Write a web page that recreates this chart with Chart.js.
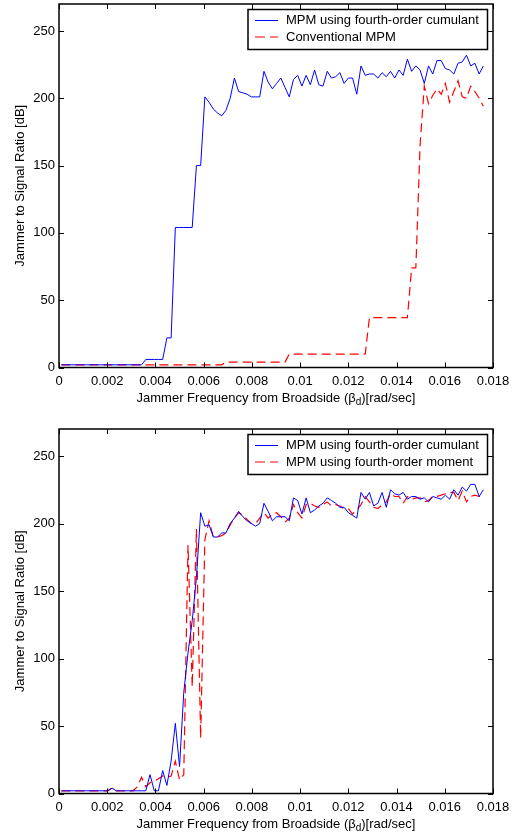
<!DOCTYPE html>
<html>
<head>
<meta charset="utf-8">
<script src="https://cdn.jsdelivr.net/npm/chart.js@4.4.0/dist/chart.umd.min.js"></script>
<style>
  body { margin: 0; background: #fff; }
  canvas { position: absolute; left: 0; }
  #top { top: 0; }
  #bottom { top: 415px; }
</style>
</head>
<body>
<canvas id="top" width="519" height="415"></canvas>
<canvas id="bottom" width="519" height="419"></canvas>
<script>
// jammer frequency samples, in micro-rad/sec
const freqMicro = [100, 275, 450, 625, 800, 975, 1150, 1325, 1500, 1675,
  1850, 2025, 2200, 2375, 2550, 2725, 2900, 3075, 3250, 3425,
  3600, 3775, 3950, 4125, 4300, 4475, 4650, 4825, 5000, 5175,
  5350, 5525, 5700, 5875, 6050, 6225, 6400, 6575, 6750, 6925,
  7100, 7275, 7450, 7625, 7800, 7975, 8150, 8325, 8500, 8675,
  8850, 9025, 9200, 9375, 9550, 9725, 9900, 10075, 10250, 10425,
  10600, 10775, 10950, 11125, 11300, 11475, 11650, 11825, 12000, 12175,
  12350, 12525, 12700, 12875, 13050, 13225, 13400, 13575, 13750, 13925,
  14100, 14275, 14450, 14625, 14800, 14975, 15150, 15325, 15500, 15675,
  15850, 16025, 16200, 16375, 16550, 16725, 16900, 17075, 17250, 17425, 17600];

// top plot
const cumulantTop = [2, 2, 2, 2, 2, 2, 2, 2, 2, 2,
  2, 2, 2, 2, 2, 2, 2, 2, 2, 2,
  6, 6, 6, 6, 6, 22, 22, 104, 104, 104,
  104, 104, 150, 150, 201, 197, 192, 189, 187, 191,
  200, 215, 205, 204, 203, 201, 201, 201, 220, 212,
  207, 211, 215, 208, 201, 214, 217, 209, 217, 210,
  221, 210, 209, 220, 215, 216, 219, 211, 215, 215,
  203, 224, 217, 218, 218, 215, 219, 216, 220, 215,
  221, 217, 229, 220, 224, 221, 211, 224, 218, 228,
  228, 222, 221, 218, 226, 227, 232, 224, 226, 218, 224];
const conventional = [2, 2, 2, 2, 2, 2, 2, 2, 2, 2,
  2, 2, 2, 2, 2, 2, 2, 2, 2, 2,
  2, 2, 2, 2, 2, 2, 2, 2, 2, 2,
  2, 2, 2, 2, 2, 2, 2, 2, 2, 4,
  4, 4, 4, 4, 4, 4, 4, 4, 4, 4,
  4, 4, 4, 4, 10, 10, 10, 10, 10, 10,
  10, 10, 10, 10, 10, 10, 10, 10, 10, 10,
  10, 10, 10, 37, 37, 37, 37, 37, 37, 37,
  37, 37, 37, 74, 74, 165, 209, 196, 202, 207,
  203, 211, 197, 205, 213, 201, 200, 209, 205, 200, 194];

// bottom plot
const cumulantBottom = [2, 2, 2, 2, 2, 2, 2, 2, 2, 2,
  2, 2, 4, 2, 2, 2, 2, 2, 2, 2,
  2, 14, 2, 2, 17, 6, 24, 52, 20, 75,
  104, 128, 160, 208, 198, 199, 190, 190, 193, 193,
  200, 204, 209, 205, 202, 200, 198, 200, 215, 209,
  202, 205, 205, 205, 202, 219, 217, 207, 219, 208,
  210, 213, 215, 219, 217, 215, 212, 212, 208, 206,
  204, 223, 218, 223, 213, 215, 223, 212, 225, 222,
  221, 223, 218, 220, 220, 218, 219, 216, 220, 219,
  218, 221, 218, 225, 221, 227, 224, 229, 229, 220, 225];
const moment = [2, 2, 2, 2, 2, 2, 2, 2, 2, 2,
  2, 2, 4, 2, 2, 2, 2, 2, 5, 12,
  5, 8, 9, 11, 13, 12, 13, 24, 10, 14,
  184, 79, 196, 41, 188, 202, 190, 190, 191, 193,
  199, 204, 208, 206, 203, 200, 200, 204, 208, 204,
  207, 208, 205, 201, 204, 214, 208, 204, 214, 215,
  213, 212, 214, 216, 213, 214, 213, 211, 211, 207,
  210, 214, 220, 216, 212, 211, 214, 216, 222, 220,
  220, 215, 220, 218, 219, 219, 216, 217, 220, 220,
  221, 222, 223, 223, 217, 224, 216, 220, 221, 220, 220];

const xTicks = [0, 0.002, 0.004, 0.006, 0.008, 0.01, 0.012, 0.014, 0.016, 0.018];
const yTicks = [0, 50, 100, 150, 200, 250];

const FONT = '"Liberation Sans", Arial, Helvetica, sans-serif';
const BLUE = '#0000ff';
const RED = '#ff0000';
const DASH = [9, 5];

function points(values) {
  return values.map((v, i) => ({ x: freqMicro[i] / 1e6, y: v }));
}

// box, inward ticks on all sides, legend and axis titles, MATLAB style
const matlabFrame = {
  id: 'matlabFrame',
  afterDraw(chart, args, opts) {
    const { ctx, chartArea: a, scales } = chart;
    const x = scales.x, y = scales.y;
    ctx.save();
    ctx.strokeStyle = '#000';
    ctx.lineWidth = 1.5;
    ctx.setLineDash([]);
    ctx.strokeRect(a.left, a.top, a.width, a.height);

    ctx.lineWidth = 1;
    ctx.beginPath();
    xTicks.forEach(v => {
      const px = Math.round(x.getPixelForValue(v)) + 0.5;
      ctx.moveTo(px, a.bottom); ctx.lineTo(px, a.bottom - 5);
      ctx.moveTo(px, a.top); ctx.lineTo(px, a.top + 5);
    });
    yTicks.forEach(v => {
      const py = Math.round(y.getPixelForValue(v)) + 0.5;
      ctx.moveTo(a.left, py); ctx.lineTo(a.left + 5, py);
      ctx.moveTo(a.right, py); ctx.lineTo(a.right - 5, py);
    });
    ctx.stroke();

    // legend
    const bw = 239.5, bh = 40;
    const bx = a.right - 5.5 - bw, by = a.top + 5.5;
    ctx.fillStyle = '#fff';
    ctx.fillRect(bx, by, bw, bh);
    ctx.lineWidth = 1.5;
    ctx.strokeRect(bx, by, bw, bh);
    ctx.font = '13px ' + FONT;
    ctx.textBaseline = 'middle';
    ctx.textAlign = 'left';
    opts.legend.forEach((item, k) => {
      const ry = by + 11 + k * 16.5;
      ctx.strokeStyle = item.color;
      ctx.lineWidth = item.width;
      ctx.setLineDash(item.dash);
      ctx.beginPath();
      ctx.moveTo(bx + 7, ry); ctx.lineTo(bx + 30, ry);
      ctx.stroke();
      ctx.setLineDash([]);
      ctx.fillStyle = '#000';
      ctx.fillText(item.label, bx + 38, ry);
    });

    // x title with subscript d
    const parts = [['Jammer Frequency from Broadside (\u03b2', 13, 0], ['d', 10, 4], [')[rad/sec]', 13, 0]];
    let total = 0;
    parts.forEach(p => { ctx.font = p[1] + 'px ' + FONT; total += ctx.measureText(p[0]).width; });
    let tx = (a.left + a.right) / 2 - total / 2;
    const ty = a.bottom + 31;
    parts.forEach(p => {
      ctx.font = p[1] + 'px ' + FONT;
      ctx.fillText(p[0], tx, ty + p[2]);
      tx += ctx.measureText(p[0]).width;
    });

    // y title
    ctx.font = '13px ' + FONT;
    ctx.translate(20, (a.top + a.bottom) / 2);
    ctx.rotate(-Math.PI / 2);
    ctx.textAlign = 'center';
    ctx.fillText('Jammer to Signal Ratio [dB]', 0, 0);
    ctx.restore();
  }
};

function makeChart(id, series, legend, padTop, xHeight) {
  return new Chart(document.getElementById(id), {
    type: 'line',
    data: {
      datasets: series.map(s => ({
        label: s.label,
        data: points(s.values),
        borderColor: s.color,
        borderWidth: s.width,
        borderDash: s.dash,
        pointRadius: 0,
        tension: 0,
        fill: false
      }))
    },
    options: {
      responsive: false,
      animation: false,
      devicePixelRatio: 1,
      layout: { padding: { left: 0, top: padTop, right: 26, bottom: 0 } },
      plugins: {
        legend: { display: false },
        tooltip: { enabled: false },
        matlabFrame: { legend: legend }
      },
      scales: {
        x: {
          type: 'linear',
          min: 0,
          max: 0.018,
          grid: { display: false, drawTicks: false },
          border: { display: false },
          ticks: {
            stepSize: 0.002,
            includeBounds: false,
            padding: 6,
            maxRotation: 0,
            autoSkip: false,
            color: '#000',
            font: { family: FONT, size: 13 },
            callback: v => String(+v.toFixed(3))
          },
          afterFit: s => { s.height = xHeight; s.paddingLeft = 0; s.paddingRight = 0; }
        },
        y: {
          min: 0,
          max: 270,
          grid: { display: false, drawTicks: false },
          border: { display: false },
          ticks: {
            stepSize: 50,
            includeBounds: false,
            padding: 4,
            color: '#000',
            font: { family: FONT, size: 13 }
          },
          afterFit: s => { s.width = 59; s.paddingTop = 0; s.paddingBottom = 0; }
        }
      }
    },
    plugins: [matlabFrame]
  });
}

makeChart('top', [
  { label: 'MPM using fourth-order cumulant', values: cumulantTop, color: BLUE, width: 1, dash: [] },
  { label: 'Conventional MPM', values: conventional, color: RED, width: 1.2, dash: DASH }
], [
  { label: 'MPM using fourth-order cumulant', color: BLUE, width: 1, dash: [] },
  { label: 'Conventional MPM', color: RED, width: 1.2, dash: [10, 5] }
], 4, 47.5);

makeChart('bottom', [
  { label: 'MPM using fourth-order cumulant', values: cumulantBottom, color: BLUE, width: 1, dash: [] },
  { label: 'MPM using fourth-order moment', values: moment, color: RED, width: 1.2, dash: DASH }
], [
  { label: 'MPM using fourth-order cumulant', color: BLUE, width: 1, dash: [] },
  { label: 'MPM using fourth-order moment', color: RED, width: 1.2, dash: [10, 5] }
], 14, 40.5);
</script>
</body>
</html>
